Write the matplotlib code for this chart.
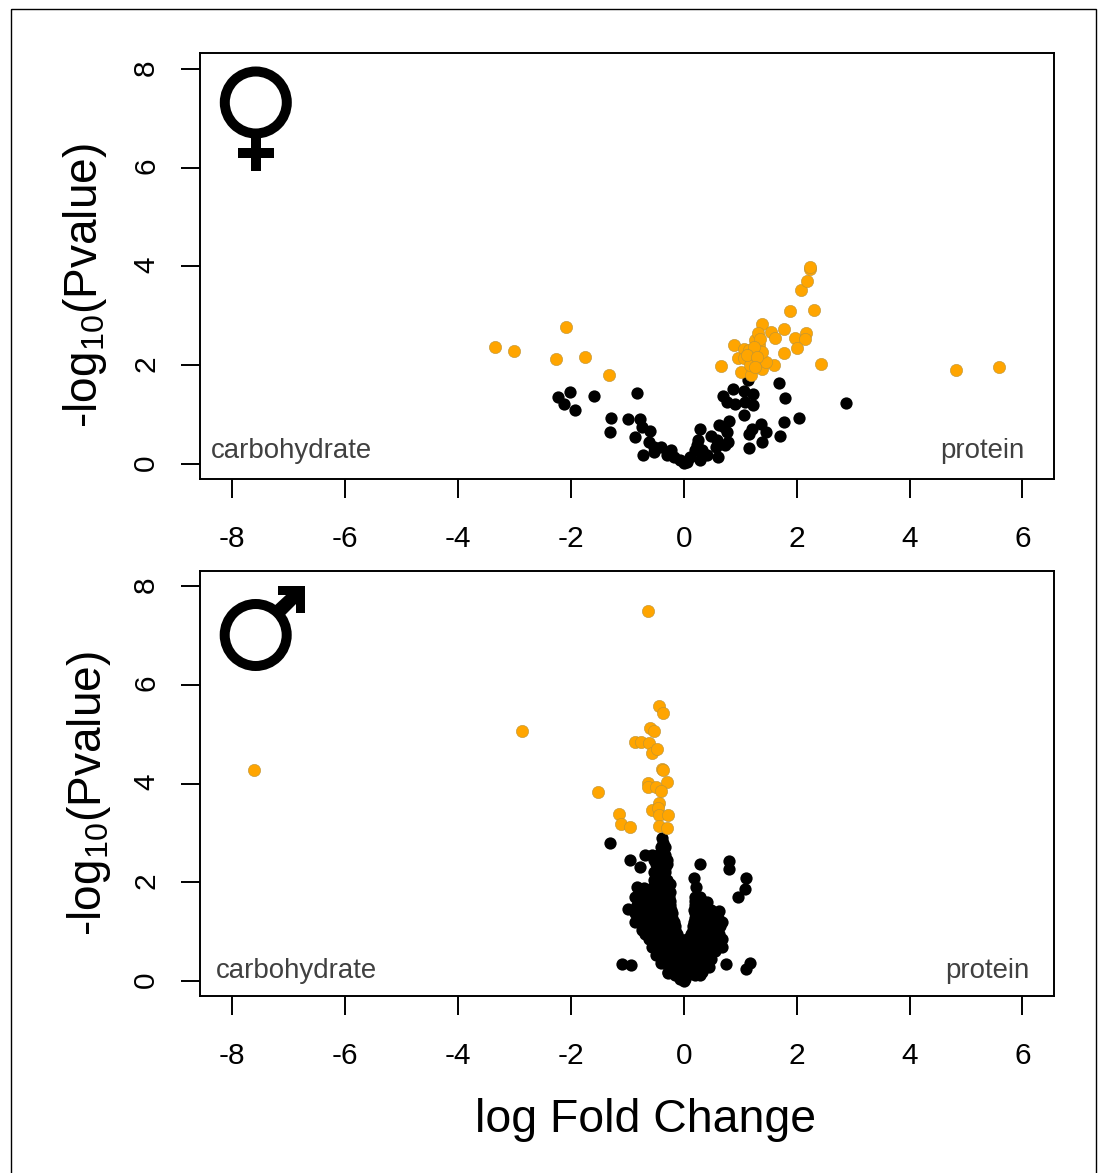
import matplotlib
matplotlib.use("Agg")
import matplotlib.pyplot as plt
from matplotlib.patches import Circle, Rectangle, Polygon
from matplotlib.transforms import Affine2D

plt.rcParams['font.family'] = ['Liberation Sans', 'DejaVu Sans']
plt.rcParams['mathtext.fontset'] = 'custom'
plt.rcParams['mathtext.rm'] = 'Liberation Sans'
plt.rcParams['mathtext.default'] = 'regular'
plt.rcParams['axes.unicode_minus'] = False

W, H = 1099, 1173
ORANGE = '#ffa500'

f_orange_x = [-3.34,-3.01,-2.08,-2.27,-1.75,-1.33,0.66,0.89,1.01,1.20,1.38,1.54,1.61,1.78,1.88,2.31,2.08,2.18,2.23,2.24,
              1.98,2.17,2.14,2.00,1.77,2.43,1.60,1.39,1.45,0.97,1.07,1.15,1.21,1.27,1.31,1.33,1.39,1.06,1.24,1.18,1.36,1.24,1.12,1.30,1.27,4.83,5.58]
f_orange_y = [2.37,2.28,2.77,2.12,2.17,1.81,1.98,2.42,1.86,1.80,2.83,2.67,2.56,2.73,3.10,3.12,3.52,3.71,3.94,3.99,
              2.56,2.65,2.54,2.35,2.24,2.02,2.00,1.92,2.07,2.15,2.34,2.31,2.24,2.51,2.65,2.41,2.27,2.14,2.11,2.00,2.54,2.38,2.21,2.17,1.97,1.90,1.96]
f_black_x = [-2.22,-2.02,-2.12,-1.92,-1.59,-0.83,-1.29,-1.31,-0.98,-0.77,-0.74,-0.59,-0.86,-0.73,-0.62,-0.53,-0.52,-0.40,-0.30,-0.22,
             -0.18,-0.06,0.00,0.06,0.12,0.20,0.29,0.29,0.25,0.23,0.32,0.41,0.48,0.60,0.58,0.62,0.71,0.81,0.77,0.79,
             0.74,0.59,1.15,1.38,1.15,1.21,1.37,1.46,1.71,1.78,2.04,2.88,1.79,1.69,1.13,0.87,1.06,1.23,0.69,0.77,0.91,1.09,1.23,1.06]
f_black_y = [1.36,1.47,1.21,1.09,1.38,1.44,0.94,0.65,0.91,0.91,0.76,0.67,0.55,0.18,0.45,0.25,0.35,0.35,0.18,0.28,
             0.15,0.08,0.03,0.05,0.15,0.28,0.08,0.72,0.49,0.38,0.28,0.18,0.57,0.15,0.35,0.79,0.76,0.88,0.65,0.45,
             0.38,0.49,0.32,0.45,0.62,0.71,0.81,0.65,0.57,0.86,0.94,1.24,1.34,1.65,1.71,1.52,1.48,1.41,1.38,1.25,1.21,1.26,1.19,0.99]

m_orange_x = [-0.43,-0.37,-0.59,-0.52,-0.87,-0.75,-0.61,-0.57,-0.47,-0.39,-0.36,-0.30,-0.64,-0.64,-0.50,-0.41,-1.52,-0.44,-0.57,-0.46,
              -0.43,-0.27,-1.15,-1.12,-0.96,-0.44,-0.30,-0.63,-2.86,-7.61]
m_orange_y = [5.57,5.42,5.13,5.07,4.84,4.84,4.81,4.61,4.69,4.30,4.27,4.04,4.01,3.92,3.93,3.85,3.83,3.61,3.46,3.50,
              3.36,3.36,3.38,3.18,3.11,3.14,3.09,7.49,5.06,4.27]
m_black_x = [-0.39,-0.41,-0.34,-0.46,-0.34,-0.69,-0.56,-0.50,-0.39,-0.30,-0.53,-0.41,-0.33,-0.53,-0.41,-0.30,-0.71,-0.56,-0.41,-0.27,
             -0.80,-0.65,-0.50,-0.36,-0.26,-0.83,-0.68,-0.53,-0.39,-0.24,-0.86,-0.68,-0.53,-0.39,-0.24,-0.20,-0.99,-0.86,-0.71,-0.56,
             -0.41,-0.27,-0.17,-0.74,-0.59,-0.44,-0.30,-0.15,-0.62,-0.47,-0.33,-0.18,-0.06,-0.56,-0.41,-0.27,-0.12,-0.50,-0.36,-0.21,
             -0.06,-0.41,-0.27,-0.12,0.00,-0.27,-0.12,0.00,0.12,-0.06,0.03,
             0.20,0.29,0.41,0.20,0.26,0.38,0.20,0.26,0.41,0.56,0.62,0.18,0.23,0.38,0.53,0.68,0.16,0.20,0.35,0.50,0.59,
             0.06,0.20,0.35,0.50,0.68,0.03,0.18,0.32,0.47,0.67,0.03,0.18,0.32,0.47,0.12,0.26,0.41,0.20,0.32,
             0.19,0.22,0.29,-1.31,-0.96,-0.77,0.81,0.81,1.10,1.09,0.96,-1.09,-0.93,0.75,1.18,1.10,-0.28,-0.83,-0.86,
             -0.37,-0.38,-0.52,-0.38,-0.30,-0.44,-0.33,-0.48,-0.36,-0.48,-0.36,-0.25,-0.72,-0.57,-0.43,-0.29,-0.25,
             -0.75,-0.60,-0.45,-0.30,-0.25,-0.76,-0.60,-0.46,-0.31,-0.22,-0.78,-0.62,-0.47,-0.34,-0.20,
             -0.65,-0.50,-0.37,-0.22,-0.15,-0.68,-0.53,-0.40,-0.25,-0.12,-0.52,-0.37,-0.23,-0.10,-0.03,
             -0.45,-0.30,-0.15,-0.05,-0.35,-0.20,-0.08,0.00,0.08,-0.20,-0.05,0.05,0.20,-0.15,-0.03,0.05,0.20,0.28,0.00,
             0.20,0.33,0.18,0.33,0.48,0.20,0.31,0.46,0.60,0.17,0.27,0.42,0.55,0.65,0.13,0.27,0.42,0.55,0.62,
             0.10,0.25,0.40,0.58,0.64,0.10,0.25,0.40,0.55,0.08,0.22,0.38,0.48,0.18,0.32,0.45]
m_black_y = [2.89,2.72,2.72,2.55,2.55,2.55,2.55,2.38,2.38,2.38,2.21,2.21,2.21,2.04,2.04,2.04,1.88,1.88,1.88,1.88,
             1.71,1.71,1.71,1.71,1.71,1.54,1.54,1.54,1.54,1.54,1.37,1.37,1.37,1.37,1.37,1.37,1.46,1.20,1.20,1.20,
             1.20,1.20,1.20,1.03,1.03,1.03,1.03,1.03,0.86,0.86,0.86,0.86,0.86,0.70,0.70,0.70,0.70,0.53,0.53,0.53,
             0.53,0.36,0.36,0.36,0.36,0.19,0.19,0.19,0.19,0.05,0.05,
             1.71,1.71,1.61,1.54,1.54,1.54,1.37,1.37,1.37,1.37,1.42,1.20,1.20,1.20,1.20,1.20,1.03,1.03,1.03,1.03,1.03,
             0.86,0.86,0.86,0.86,0.86,0.70,0.70,0.70,0.70,0.70,0.53,0.53,0.53,0.53,0.36,0.36,0.36,0.19,0.19,
             2.09,1.91,2.37,2.79,2.46,2.31,2.43,2.27,2.08,1.86,1.70,0.34,0.32,0.34,0.37,0.24,0.16,1.91,1.71,
             2.80,2.63,2.46,2.46,2.46,2.30,2.30,2.12,2.12,1.96,1.96,1.96,1.80,1.80,1.80,1.80,1.80,
             1.62,1.62,1.62,1.62,1.62,1.45,1.45,1.45,1.45,1.45,1.28,1.28,1.28,1.28,1.28,
             1.11,1.11,1.11,1.11,1.11,0.95,0.95,0.95,0.95,0.95,0.78,0.78,0.78,0.78,0.78,
             0.62,0.62,0.62,0.62,0.45,0.45,0.45,0.45,0.45,0.28,0.28,0.28,0.28,0.12,0.12,0.12,0.12,0.12,0.01,
             1.62,1.62,1.45,1.45,1.45,1.28,1.28,1.28,1.28,1.11,1.11,1.11,1.11,1.11,0.95,0.95,0.95,0.95,0.95,
             0.78,0.78,0.78,0.78,0.78,0.62,0.62,0.62,0.62,0.45,0.45,0.45,0.45,0.28,0.28,0.28]

x_ticks = [-8, -6, -4, -2, 0, 2, 4, 6]
y_ticks = [0, 2, 4, 6, 8]
y_label = r'-log$_{10}$(Pvalue)'
x_label = 'log Fold Change'

fig = plt.figure(figsize=(W/100, H/100), dpi=100, facecolor='white')
px = Affine2D().scale(1/W, -1/H).translate(0, 1) + fig.transFigure

def make_axes(left, top, right, bottom):
    return fig.add_axes([left/W, 1-bottom/H, (right-left)/W, (bottom-top)/H])

def style(ax, ylim):
    ax.set_xlim(-8.57, 6.56)
    ax.set_ylim(*ylim)
    ax.set_xticks(x_ticks)
    ax.set_yticks(y_ticks)
    ax.tick_params(axis='both', length=13.7, width=1.4, labelsize=21.5, color='black')
    ax.tick_params(axis='x', pad=19.5)
    ax.tick_params(axis='y', pad=15)
    for t in ax.get_yticklabels():
        t.set_rotation(90)
        t.set_va('center')
        t.set_transform(t.get_transform() + Affine2D().translate(0, 1.5))
    for s in ax.spines.values():
        s.set_linewidth(1.4)

def scatter(ax, bx, by, ox, oy):
    ax.scatter(bx, by, s=78, c='black', linewidths=0, zorder=2)
    ax.scatter(ox, oy, s=78, c=ORANGE, edgecolors='#b8923a', linewidths=0.4, zorder=3)

top_ax = make_axes(200, 53, 1054, 479)
scatter(top_ax, f_black_x, f_black_y, f_orange_x, f_orange_y)
style(top_ax, (-0.30, 8.32))
top_ax.set_ylabel(y_label, fontsize=33.1)
top_ax.yaxis.set_label_coords(-0.107, 0.455)
fig.text(211/W, 1-458/H, 'carbohydrate', fontsize=19.9, color='#404040', ha='left', va='baseline')
fig.text(1024/W, 1-458/H, 'protein', fontsize=19.9, color='#404040', ha='right', va='baseline')

bot_ax = make_axes(200, 571, 1054, 996)
scatter(bot_ax, m_black_x, m_black_y, m_orange_x, m_orange_y)
style(bot_ax, (-0.30, 8.30))
bot_ax.set_ylabel(y_label, fontsize=33.1)
bot_ax.yaxis.set_label_coords(-0.102, 0.476)
fig.text(216/W, 1-978/H, 'carbohydrate', fontsize=19.9, color='#404040', ha='left', va='baseline')
fig.text(1029/W, 1-978/H, 'protein', fontsize=19.9, color='#404040', ha='right', va='baseline')
fig.text(645.5/W, 1-1120/H, x_label, fontsize=33.4, ha='center', va='center')

# sex symbols, in figure pixels
sym = dict(transform=px, facecolor='black', edgecolor='none', zorder=10)
fig.add_artist(Circle((255.8, 102.5), 31, transform=px, fill=False, edgecolor='black', linewidth=7.2, zorder=10))
fig.add_artist(Rectangle((251, 136), 10, 35, **sym))
fig.add_artist(Rectangle((238, 148), 36, 10, **sym))
fig.add_artist(Circle((255.7, 635), 31, transform=px, fill=False, edgecolor='black', linewidth=7.2, zorder=10))
fig.add_artist(Polygon([(278, 586), (305, 586), (305, 613), (296, 613), (296, 604), (282, 618), (272, 608), (286, 595), (278, 595)], closed=True, **sym))

# outer frame
fig.add_artist(Rectangle((11, 9), 1085, 1180, transform=px, fill=False, edgecolor='black', linewidth=1))

fig.savefig('out.png', dpi=100)
